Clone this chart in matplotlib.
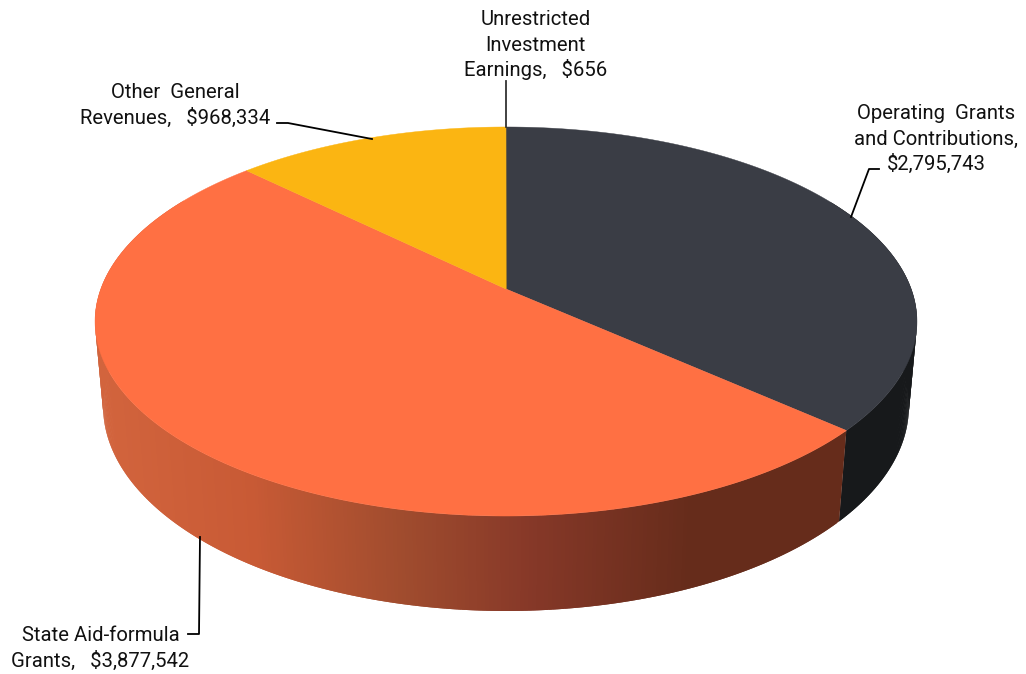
import numpy as np
import matplotlib
matplotlib.use('Agg')
import matplotlib.pyplot as plt
from matplotlib.collections import PolyCollection

plt.rcParams['font.family'] = ['Roboto', 'DejaVu Sans']

categories = ['Operating  Grants\nand Contributions,\n$2,795,743',
              'State Aid-formula\nGrants,   $3,877,542',
              'Other  General\nRevenues,   $968,334',
              'Unrestricted\nInvestment\nEarnings,   $656']
values = [2795743, 3877542, 968334, 656]
top_colors = ['#3a3d45', '#ff7043', '#fbb512', '#fbb512']

# wall shading, left to right across the image
shade_x = [100, 250, 400, 530, 690, 840]
shade_r = [0xd2, 0xc8, 0xa0, 0x86, 0x66, 0x66]
shade_g = [0x64, 0x5a, 0x4c, 0x38, 0x2c, 0x2c]
shade_b = [0x3d, 0x35, 0x2e, 0x28, 0x1b, 0x1b]
dark_wall = '#17191b'

# projection of the unit disc to pixels
CX, APEX_Y = 506, 289
K, B, C = 405.2, 140.8, -0.1671
DEPTH_W, DEPTH_Y = 0.0195, 91


def project(angle, radius=1.0, depth=0):
    """Angle is clockwise from 12 o'clock, depth 0 = top face, 1 = bottom face"""
    x = radius * np.sin(angle)
    y = -radius * np.cos(angle)
    w = 1 + C * y + DEPTH_W * depth
    return CX + K * x / w, (APEX_Y + DEPTH_Y * depth + B * y) / w


fig = plt.figure(figsize=(10.26, 6.74), dpi=100)
ax = fig.add_axes([0, 0, 1, 1])
ax.set_xlim(0, 1026)
ax.set_ylim(674, 0)
ax.axis('off')

edges = np.concatenate([[0], np.cumsum(values)]) / np.sum(values) * 2 * np.pi

# side wall, thin strips that overlap the next one so no seams show
polys, colors = [], []
for i, (start, end) in enumerate(zip(edges[:-1], edges[1:])):
    steps = np.linspace(start, end, max(2, int((end - start) * 120)))
    for j in range(len(steps) - 1):
        a0 = steps[j]
        a1 = steps[min(j + 2, len(steps) - 1)]
        # the back part ends up under the top face anyway
        if np.cos((steps[j] + steps[j + 1]) / 2) > 0.5:
            continue
        t0 = project(a0)
        t1 = project(a1)
        b0 = project(a0, depth=1)
        b1 = project(a1, depth=1)
        polys.append([t0, t1, b1, b0])
        if i == 0:
            colors.append(dark_wall)
        else:
            xm = (t0[0] + t1[0]) / 2
            colors.append((np.interp(xm, shade_x, shade_r) / 255,
                           np.interp(xm, shade_x, shade_g) / 255,
                           np.interp(xm, shade_x, shade_b) / 255))
ax.add_collection(PolyCollection(polys, facecolors=colors, edgecolors='none',
                                 linewidths=0, zorder=1))

# top face
for start, end, color in zip(edges[:-1], edges[1:], top_colors):
    steps = np.linspace(start, end, max(2, int((end - start) * 120)))
    xs, ys = project(steps)
    ax.fill(np.r_[CX, xs], np.r_[APEX_Y, ys], color=color, lw=0.3, zorder=2)

# leader lines
ax.plot([879, 869, 851], [169, 169, 217], color='black', lw=1.3, zorder=3)
ax.plot([188, 199, 200], [634, 634, 537], color='black', lw=1.3, zorder=3)
ax.plot([277, 288, 372], [123, 123, 139], color='black', lw=1.3, zorder=3)
ax.plot([506, 506], [81, 127], color='#333333', lw=1.3, zorder=3)

# labels, one text per line so the row spacing can be exact
label_pos = [(936, 119), (100.5, 641), (175, 98), (535.5, 25)]
for text, (x, y) in zip(categories, label_pos):
    for row, line in enumerate(text.split('\n')):
        ax.text(x, y + row * 25.7, line, ha='center', va='baseline',
                fontsize=14.6, color='#111111')

fig.savefig('out.png', dpi=100)
